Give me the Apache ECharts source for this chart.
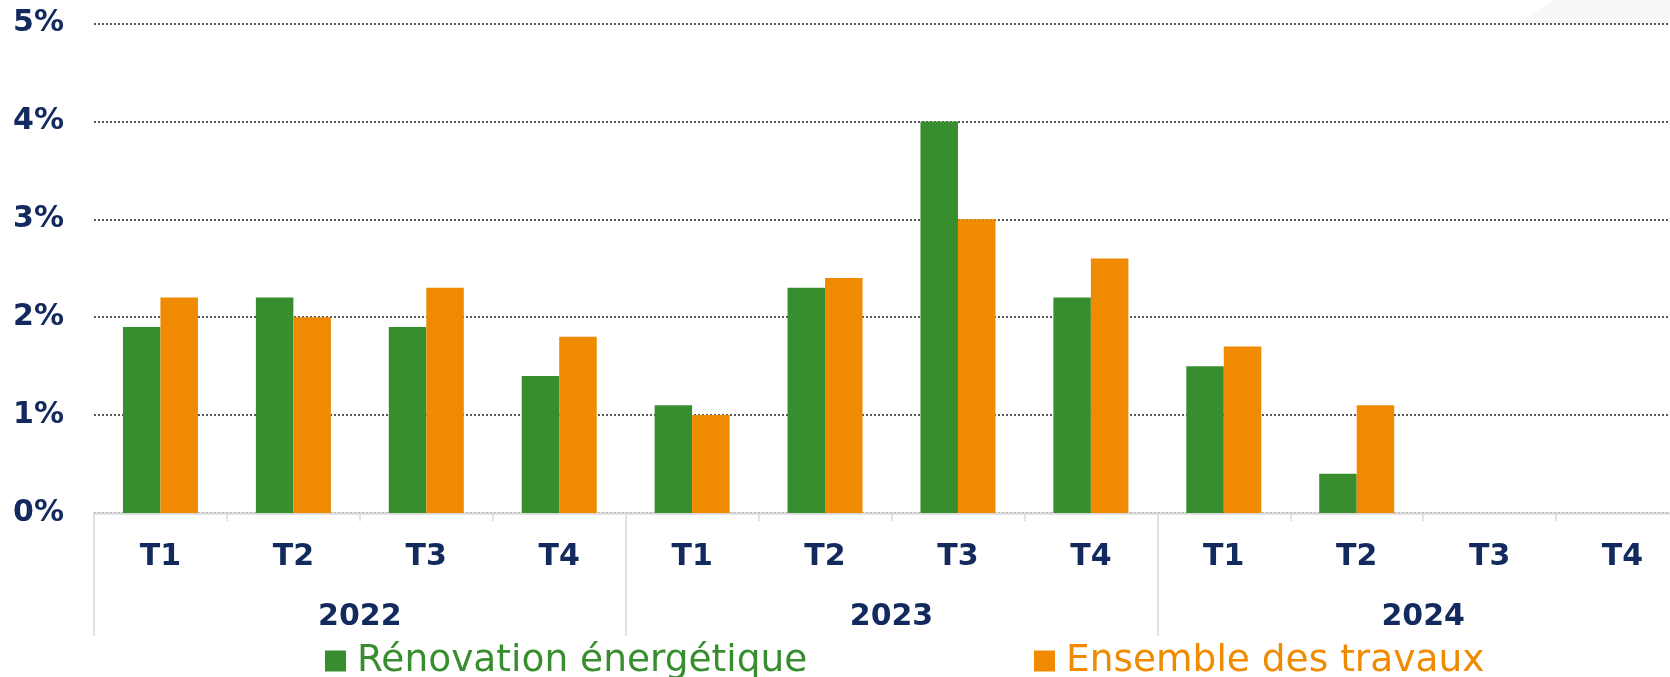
<!DOCTYPE html>
<html>
<head>
<meta charset="utf-8">
<script src="https://cdn.jsdelivr.net/npm/echarts@6/dist/echarts.min.js"></script>
<style>
  html, body { margin: 0; padding: 0; background: #fff; }
  #chart { width: 1670px; height: 677px; }
</style>
</head>
<body>
<div id="chart"></div>
<script>
// trimestres et années
const quarters = ['T1', 'T2', 'T3', 'T4', 'T1', 'T2', 'T3', 'T4', 'T1', 'T2', 'T3', 'T4']
const years = ['2022', '2023', '2024']

// valeurs en %
const renovation = [1.9, 2.2, 1.9, 1.4, 1.1, 2.3, 4.0, 2.2, 1.5, 0.4, null, null]
const ensemble = [2.2, 2.0, 2.3, 1.8, 1.0, 2.4, 3.0, 2.6, 1.7, 1.1, null, null]

const yTicks = { min: 0, max: 5, interval: 1 }

const navy = '#132a5e'
const green = '#388e2e'
const orange = '#f08a00'
const boldFont = { fontFamily: 'DejaVu Sans', fontWeight: 'bold', fontSize: 30, color: navy }

const chart = echarts.init(document.getElementById('chart'))
chart.setOption({
  animation: false,
  backgroundColor: '#fff',
  graphic: [{
    type: 'polygon',
    silent: true,
    z: -1,
    shape: { points: [[1515, 24], [1555, 0], [1670, 0], [1670, 24]] },
    style: { fill: '#f7f7f7' }
  }],
  grid: {
    left: 94,
    top: 23.5,
    width: 1595,
    bottom: 164,
    outerBoundsMode: 'none'
  },
  legend: [{
    data: ['Rénovation énergétique'],
    left: 325,
    top: 642,
    padding: 0,
    icon: 'rect',
    itemWidth: 21,
    itemHeight: 21,
    textStyle: { fontFamily: 'DejaVu Sans', fontSize: 37.5, color: green, padding: [0, 0, 0, 6] }
  }, {
    data: ['Ensemble des travaux'],
    left: 1034,
    top: 642,
    padding: 0,
    icon: 'rect',
    itemWidth: 21,
    itemHeight: 21,
    textStyle: { fontFamily: 'DejaVu Sans', fontSize: 37.5, color: orange, padding: [0, 0, 0, 6] }
  }],
  xAxis: [{
    type: 'category',
    data: quarters,
    position: 'bottom',
    axisLine: { lineStyle: { color: '#d9d9d9', width: 2.5 } },
    axisTick: { show: true, length: 8, lineStyle: { color: '#d9d9d9', width: 1.5 } },
    axisLabel: { ...boldFont, margin: 29, lineHeight: 30 }
  }, {
    type: 'category',
    data: years,
    position: 'bottom',
    axisLine: { show: false },
    axisTick: { show: true, length: 123, lineStyle: { color: '#d9d9d9', width: 1.5 } },
    axisLabel: { ...boldFont, margin: 89, lineHeight: 30 }
  }],
  yAxis: {
    type: 'value',
    min: yTicks.min,
    max: yTicks.max,
    interval: yTicks.interval,
    axisLine: { show: false },
    axisTick: { show: false },
    axisLabel: { ...boldFont, margin: 30, formatter: '{value}%' },
    splitLine: { lineStyle: { color: '#222', type: [2, 2], width: 1.5 } }
  },
  series: [{
    name: 'Rénovation énergétique',
    type: 'bar',
    xAxisIndex: 0,
    data: renovation,
    barWidth: 37.5,
    barGap: '0%',
    itemStyle: { color: green }
  }, {
    name: 'Ensemble des travaux',
    type: 'bar',
    xAxisIndex: 0,
    data: ensemble,
    barWidth: 37.5,
    barGap: '0%',
    itemStyle: { color: orange }
  }]
})
</script>
</body>
</html>
